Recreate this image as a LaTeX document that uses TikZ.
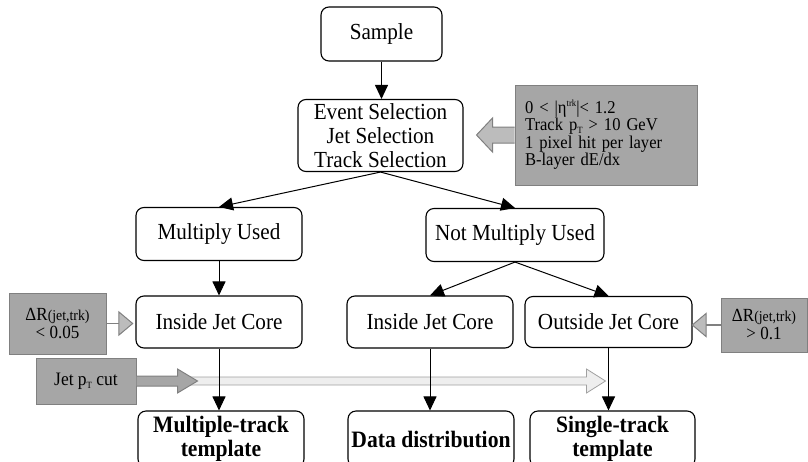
\documentclass[tikz,border=0pt]{standalone}
\usepackage{fontspec}
\setmainfont{Liberation Serif}[FakeStretch=0.92]
\usetikzlibrary{arrows.meta,calc}
\definecolor{boxfill}{RGB}{166,166,166}
\definecolor{boxedge}{RGB}{128,128,128}
\definecolor{arrfill}{RGB}{188,188,188}
\definecolor{lightfill}{RGB}{238,238,238}
\definecolor{lightedge}{RGB}{160,160,160}
\newcommand{\subT}{\raisebox{-0.35ex}{\fontsize{9.5}{9.5}\selectfont T}}
\newcommand{\supTrk}{\raisebox{0.8ex}{\fontsize{9.5}{9.5}\selectfont trk}}
\newcommand{\mainsize}{\fontsize{23}{24}\selectfont}
\newcommand{\graysize}{\fontsize{18}{17.5}\selectfont}
\newcommand{\drsize}{\fontsize{18.5}{18}\selectfont}
\newcommand{\jetrk}{{\fontsize{15}{15}\selectfont(jet,trk)}}
\begin{document}
\begin{tikzpicture}[x=1pt,y=-1pt,
 flowbox/.style={draw, rounded corners=8pt, line width=1.1pt, align=center, font=\mainsize, inner sep=0pt},
 resultbox/.style={flowbox, font=\fontsize{23.5}{24}\selectfont\bfseries},
 graybox/.style={draw=boxedge, fill=boxfill, line width=1pt, inner sep=0pt},
 flow/.style={line width=1pt, -{Triangle[length=14pt,width=13pt]}},
 sidearrow/.style={draw=boxedge, line width=1.8pt, -{Triangle[length=15pt,width=25pt,fill=arrfill,line width=1pt]}},
 blockarrow/.style={draw=boxedge, fill=arrfill, line width=1pt},
]
\useasboundingbox (0,0) rectangle (808,461);
\clip (0,0) rectangle (808,461);

% gray annotation boxes
\node[graybox, minimum width=182pt, minimum height=100pt, text width=162pt, align=left, font=\graysize] (cuts) at (606,135)
  {0 < |η\supTrk|< 1.2\\Track p\subT{} > 10 GeV\\1 pixel hit per layer\\B-layer dE/dx};
\node[graybox, minimum width=97pt, minimum height=61pt, align=center, font=\drsize] (dr1) at (57.5,323.5) {ΔR\jetrk\\< 0.05};
\node[graybox, minimum width=86pt, minimum height=54pt, align=center, font=\drsize] (dr2) at (764,325) {ΔR\jetrk\\> 0.1};
\node[graybox, minimum width=100pt, minimum height=46pt, font=\fontsize{19}{19}\selectfont] (jet) at (86,381) {Jet p\subT{} cut};

% flow boxes
\node[flowbox, minimum width=121pt, minimum height=54pt] (sample) at (381.5,34) {Sample};
\node[flowbox, minimum width=165pt, minimum height=72pt] (event) at (380.5,135.5) {Event Selection\\Jet Selection\\Track Selection};
\node[flowbox, minimum width=166pt, minimum height=53pt] (mu) at (219,234) {Multiply Used};
\node[flowbox, minimum width=178pt, minimum height=53pt] (nmu) at (515,235) {Not Multiply Used};
\node[flowbox, minimum width=166pt, minimum height=52pt] (ijc1) at (219,322) {Inside Jet Core};
\node[flowbox, minimum width=166pt, minimum height=52pt] (ijc2) at (430,322) {Inside Jet Core};
\node[flowbox, minimum width=167pt, minimum height=51pt] (ojc) at (608.5,322) {Outside Jet Core};
\node[resultbox, minimum width=166pt, minimum height=56pt] (mtt) at (221,439) {Multiple-track\\template};
\node[resultbox, minimum width=166pt, minimum height=56pt] (dd) at (431,439) {Data distribution};
\node[resultbox, minimum width=165pt, minimum height=56pt] (stt) at (612.5,439) {Single-track\\template};

% block arrow from the cuts box
\draw[blockarrow] ($(cuts.west)+(0,-8)$) -- ++(-22,0) -- ++(0,-9) -- ($(cuts.west)+(-38,0)$)
  -- ($(cuts.west)+(-22,17)$) -- ++(0,-9) -- ($(cuts.west)+(0,8)$);

% side arrows
\draw[sidearrow, shorten >=2pt] (dr1.east) -- (dr1.east -| ijc1.west);
\draw[sidearrow, shorten >=-1pt] (dr2.west) -- (dr2.west -| ojc.east);

% jet pT cut arrows
\draw[draw=lightedge, fill=lightfill, line width=0.8pt] ($(jet.east)+(41,-4)$) -- ($(jet.east)+(450,-4)$) -- ++(0,-8)
  -- ($(jet.east)+(469,0)$) -- ($(jet.east)+(450,12)$) -- ++(0,-8) -- ($(jet.east)+(41,4)$) -- cycle;
\draw[blockarrow, fill=boxfill] ($(jet.east)+(0,-5)$) -- ++(41,0) -- ++(0,-7) -- ($(jet.east)+(61,0)$)
  -- ($(jet.east)+(41,12)$) -- ++(0,-7) -- ($(jet.east)+(0,5)$);

% flow connectors
\draw[flow] (sample.south) -- (sample.south |- event.north);
\draw[flow] (event.south) -- (mu.north);
\draw[flow] (event.south) -- (nmu.north);
\draw[flow] (mu.south) -- (ijc1.north);
\draw[flow] (nmu.south) -- (ijc2.north);
\draw[flow] (nmu.south) -- (ojc.north);
\draw[flow] (ijc1.south) -- (ijc1.south |- mtt.north);
\draw[flow] (ijc2.south) -- (ijc2.south |- dd.north);
\draw[flow] (ojc.south) -- (ojc.south |- stt.north);
\end{tikzpicture}
\end{document}
